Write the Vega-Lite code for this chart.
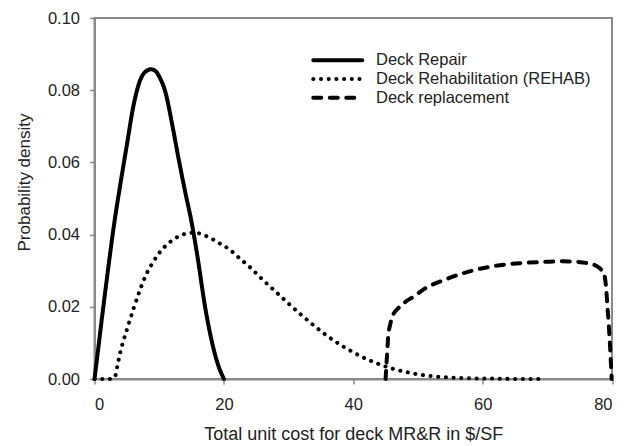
{
  "$schema": "https://vega.github.io/schema/vega-lite/v6.json",
  "width": 517.5,
  "height": 361,
  "autosize": {"type": "none"},
  "padding": {"left": 94.5, "top": 18, "right": 19, "bottom": 67},
  "background": "white",
  "config": {
    "view": {"stroke": "#8a8a8a", "strokeWidth": 2},
    "font": "Liberation Sans",
    "axis": {
      "domainColor": "#8a8a8a",
      "domainWidth": 2,
      "tickColor": "#8a8a8a",
      "tickWidth": 1.5,
      "tickSize": 5,
      "grid": false,
      "labelFont": "Liberation Sans",
      "labelFontSize": 16.5,
      "labelColor": "#222222",
      "titleFont": "Liberation Sans",
      "titleFontWeight": "normal",
      "titleColor": "#222222"
    }
  },
  "data": {
    "values": [
      {"series": "Deck Repair", "x": 0, "y": 0},
      {"series": "Deck Repair", "x": 0.5, "y": 0.0073},
      {"series": "Deck Repair", "x": 1, "y": 0.0147},
      {"series": "Deck Repair", "x": 2, "y": 0.029},
      {"series": "Deck Repair", "x": 3, "y": 0.0425},
      {"series": "Deck Repair", "x": 4, "y": 0.054},
      {"series": "Deck Repair", "x": 5, "y": 0.0648},
      {"series": "Deck Repair", "x": 6, "y": 0.0755},
      {"series": "Deck Repair", "x": 7, "y": 0.0825},
      {"series": "Deck Repair", "x": 8, "y": 0.0853},
      {"series": "Deck Repair", "x": 8.7, "y": 0.0858},
      {"series": "Deck Repair", "x": 9.5, "y": 0.0852},
      {"series": "Deck Repair", "x": 10, "y": 0.0838},
      {"series": "Deck Repair", "x": 11, "y": 0.0792},
      {"series": "Deck Repair", "x": 12, "y": 0.0706},
      {"series": "Deck Repair", "x": 13, "y": 0.061},
      {"series": "Deck Repair", "x": 14, "y": 0.052},
      {"series": "Deck Repair", "x": 15, "y": 0.0435},
      {"series": "Deck Repair", "x": 16, "y": 0.033},
      {"series": "Deck Repair", "x": 17, "y": 0.021},
      {"series": "Deck Repair", "x": 18, "y": 0.0115},
      {"series": "Deck Repair", "x": 19, "y": 0.0045},
      {"series": "Deck Repair", "x": 20, "y": 0},

      {"series": "Deck Rehabilitation (REHAB)", "x": 0, "y": 0},
      {"series": "Deck Rehabilitation (REHAB)", "x": 1, "y": 0},
      {"series": "Deck Rehabilitation (REHAB)", "x": 2, "y": 0},
      {"series": "Deck Rehabilitation (REHAB)", "x": 2.8, "y": 0.0001},
      {"series": "Deck Rehabilitation (REHAB)", "x": 3.2, "y": 0.0008},
      {"series": "Deck Rehabilitation (REHAB)", "x": 3.6, "y": 0.0042},
      {"series": "Deck Rehabilitation (REHAB)", "x": 4, "y": 0.0075},
      {"series": "Deck Rehabilitation (REHAB)", "x": 4.5, "y": 0.0108},
      {"series": "Deck Rehabilitation (REHAB)", "x": 5, "y": 0.0136},
      {"series": "Deck Rehabilitation (REHAB)", "x": 6, "y": 0.0193},
      {"series": "Deck Rehabilitation (REHAB)", "x": 7, "y": 0.0245},
      {"series": "Deck Rehabilitation (REHAB)", "x": 8, "y": 0.029},
      {"series": "Deck Rehabilitation (REHAB)", "x": 9, "y": 0.0322},
      {"series": "Deck Rehabilitation (REHAB)", "x": 10, "y": 0.0349},
      {"series": "Deck Rehabilitation (REHAB)", "x": 11, "y": 0.0369},
      {"series": "Deck Rehabilitation (REHAB)", "x": 12, "y": 0.0384},
      {"series": "Deck Rehabilitation (REHAB)", "x": 13, "y": 0.0395},
      {"series": "Deck Rehabilitation (REHAB)", "x": 14, "y": 0.0402},
      {"series": "Deck Rehabilitation (REHAB)", "x": 15, "y": 0.0405},
      {"series": "Deck Rehabilitation (REHAB)", "x": 16, "y": 0.0404},
      {"series": "Deck Rehabilitation (REHAB)", "x": 17, "y": 0.0398},
      {"series": "Deck Rehabilitation (REHAB)", "x": 18, "y": 0.039},
      {"series": "Deck Rehabilitation (REHAB)", "x": 19, "y": 0.0379},
      {"series": "Deck Rehabilitation (REHAB)", "x": 20, "y": 0.0369},
      {"series": "Deck Rehabilitation (REHAB)", "x": 21, "y": 0.0357},
      {"series": "Deck Rehabilitation (REHAB)", "x": 22, "y": 0.0341},
      {"series": "Deck Rehabilitation (REHAB)", "x": 24, "y": 0.031},
      {"series": "Deck Rehabilitation (REHAB)", "x": 26, "y": 0.0275},
      {"series": "Deck Rehabilitation (REHAB)", "x": 28, "y": 0.0242},
      {"series": "Deck Rehabilitation (REHAB)", "x": 30, "y": 0.0209},
      {"series": "Deck Rehabilitation (REHAB)", "x": 32, "y": 0.0177},
      {"series": "Deck Rehabilitation (REHAB)", "x": 34, "y": 0.0147},
      {"series": "Deck Rehabilitation (REHAB)", "x": 36, "y": 0.0119},
      {"series": "Deck Rehabilitation (REHAB)", "x": 38, "y": 0.0095},
      {"series": "Deck Rehabilitation (REHAB)", "x": 40, "y": 0.0074},
      {"series": "Deck Rehabilitation (REHAB)", "x": 42, "y": 0.0056},
      {"series": "Deck Rehabilitation (REHAB)", "x": 44, "y": 0.0041},
      {"series": "Deck Rehabilitation (REHAB)", "x": 46, "y": 0.0029},
      {"series": "Deck Rehabilitation (REHAB)", "x": 48, "y": 0.002},
      {"series": "Deck Rehabilitation (REHAB)", "x": 50, "y": 0.0013},
      {"series": "Deck Rehabilitation (REHAB)", "x": 52, "y": 0.0008},
      {"series": "Deck Rehabilitation (REHAB)", "x": 55, "y": 0.0004},
      {"series": "Deck Rehabilitation (REHAB)", "x": 58, "y": 0.0002},
      {"series": "Deck Rehabilitation (REHAB)", "x": 62, "y": 0.0001},
      {"series": "Deck Rehabilitation (REHAB)", "x": 66, "y": 0},
      {"series": "Deck Rehabilitation (REHAB)", "x": 69, "y": 0},

      {"series": "Deck replacement", "x": 45.0, "y": 0},
      {"series": "Deck replacement", "x": 45.2, "y": 0.006},
      {"series": "Deck replacement", "x": 45.4, "y": 0.0117},
      {"series": "Deck replacement", "x": 45.7, "y": 0.015},
      {"series": "Deck replacement", "x": 46.1, "y": 0.0175},
      {"series": "Deck replacement", "x": 47, "y": 0.0197},
      {"series": "Deck replacement", "x": 48, "y": 0.0213},
      {"series": "Deck replacement", "x": 49.3, "y": 0.0228},
      {"series": "Deck replacement", "x": 51.3, "y": 0.0253},
      {"series": "Deck replacement", "x": 54, "y": 0.0274},
      {"series": "Deck replacement", "x": 57, "y": 0.0293},
      {"series": "Deck replacement", "x": 60, "y": 0.0307},
      {"series": "Deck replacement", "x": 63, "y": 0.0316},
      {"series": "Deck replacement", "x": 66.8, "y": 0.0322},
      {"series": "Deck replacement", "x": 70.4, "y": 0.0325},
      {"series": "Deck replacement", "x": 72, "y": 0.0326},
      {"series": "Deck replacement", "x": 74, "y": 0.0325},
      {"series": "Deck replacement", "x": 76.5, "y": 0.032},
      {"series": "Deck replacement", "x": 77.5, "y": 0.0314},
      {"series": "Deck replacement", "x": 78.2, "y": 0.0305},
      {"series": "Deck replacement", "x": 78.8, "y": 0.029},
      {"series": "Deck replacement", "x": 79.1, "y": 0.025},
      {"series": "Deck replacement", "x": 79.3, "y": 0.02},
      {"series": "Deck replacement", "x": 79.5, "y": 0.015},
      {"series": "Deck replacement", "x": 79.7, "y": 0.009},
      {"series": "Deck replacement", "x": 79.95, "y": 0}
    ]
  },
  "mark": {"type": "line", "color": "black", "strokeWidth": 4, "strokeCap": "round", "interpolate": "monotone", "clip": false},
  "encoding": {
    "x": {
      "field": "x", "type": "quantitative",
      "scale": {"domain": [0, 80], "nice": false, "zero": false},
      "axis": {"values": [0, 20, 40, 60, 80], "labelPadding": 12, "title": "Total unit cost for deck MR&R in $/SF", "titleFontSize": 18, "titlePadding": 13}
    },
    "y": {
      "field": "y", "type": "quantitative",
      "scale": {"domain": [0, 0.1], "nice": false},
      "axis": {"values": [0, 0.02, 0.04, 0.06, 0.08, 0.1], "format": ".2f", "labelPadding": 10, "title": "Probability density", "titleFontSize": 17, "titlePadding": 14, "titleY": 164}
    },
    "strokeDash": {
      "field": "series", "type": "nominal",
      "scale": {"domain": ["Deck Repair", "Deck Rehabilitation (REHAB)", "Deck replacement"], "range": [[1, 0], [0.1, 7.6], [8, 8.5]]},
      "legend": {
        "title": null,
        "orient": "none",
        "legendX": 235,
        "legendY": 34,
        "padding": 0,
        "symbolType": "M-5,0H5",
        "symbolSize": 96,
        "symbolStrokeWidth": 4,
        "symbolStrokeColor": "black",
        "labelFont": "Liberation Sans",
        "labelFontSize": 16.5,
        "labelColor": "#222222",
        "labelLimit": 400,
        "rowPadding": 1.7,
        "labelOffset": 30,
        "encode": {"symbols": {"update": {"strokeCap": {"value": "round"}}}}
      }
    }
  }
}
